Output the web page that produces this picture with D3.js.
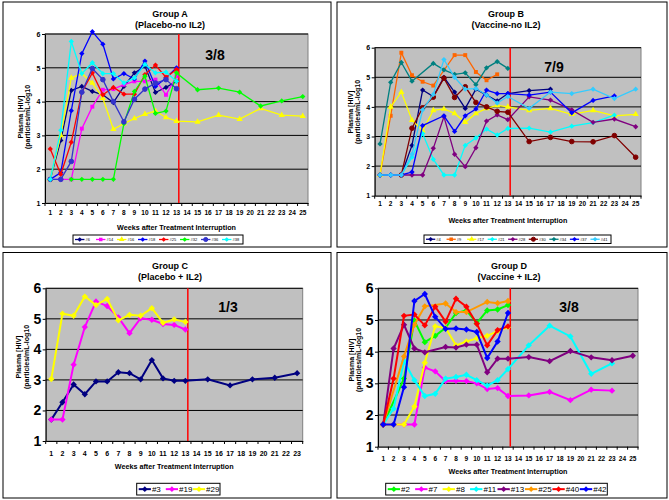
<!DOCTYPE html>
<html>
<head>
<meta charset="utf-8">
<script src="https://cdn.jsdelivr.net/npm/d3@7"></script>
<style>
body { margin: 0; background: #fff; }
text { font-family: "Liberation Sans", Arial, sans-serif; font-weight: bold; fill: #000; }
</style>
</head>
<body>
<script>
// weeks with measurements
const weeksLong = [1,2,3,4,5,6,7,8,9,10,11,12,13,15,17,19,21,23,25];
const weeksC = [1,2,3,4,5,6,7,8,9,10,11,12,13,15,17,19,21,23];
// tick labels on the category axes
const ticksLong = ["1","2","3","4","5","6","7","8","9","10","11","12","13","14","15","16","17","18","19","20","21","22","23","24","25"];
const ticksC = ["1","2","3","4","5","6","7","8","9","10","11","12","13","14","15","16","17","18","19","20","21","22","23"];
const yTicks = [1,2,3,4,5,6];

// Group A (Placebo-no IL2)
const idsA = ["#6","#14","#16","#18","#25","#32","#36","#38"];
const valuesA = [
  [1.7,2.85,4.33,4.45,4.3,4.2,3.97,4.45,4.85,5.05,4.27,4.42,4.6],
  [1.7,1.7,1.7,3.2,3.85,4.35,4.37,4.5,4.6,4.6,4.65,4.2,4.75],
  [1.7,3.0,4.7,4.83,4.55,4.1,3.18,3.35,3.5,3.63,3.72,3.53,3.42,3.4,3.6,3.48,3.8,3.6,3.57],
  [1.7,1.9,3.73,5.42,6.07,5.7,4.67,4.83,4.67,5.2,4.45,4.7,5.0],
  [2.6,1.85,2.8,4.28,4.85,4.2,4.42,4.22,4.22,4.8,5.08,4.72,4.95],
  [null,null,1.7,1.7,1.7,1.7,1.7,3.35,4.3,4.75,3.65,3.72,4.85,4.35,4.4,4.28,3.87,4.02,4.15],
  [1.7,1.7,2.23,4.28,4.98,4.65,4.0,3.4,4.07,4.37,4.55,4.65,4.38],
  [1.7,3.15,5.78,4.83,5.15,4.83,4.83,4.55,4.7,5.1,4.85,4.87,4.6]
];

// Group B (Vaccine-no IL2)
const idsB = ["#4","#9","#17","#21","#28","#30","#34","#37","#41"];
const valuesB = [
  [1.7,1.7,1.7,2.7,4.57,4.35,5.0,4.5,3.95,4.6,4.4,4.2,4.45,4.55,4.6],
  [1.7,3.7,5.83,5.07,4.85,4.72,null,5.75,5.75,5.18,4.9,5.1],
  [1.7,4.0,4.5,3.55,3.2,3.88,3.93,3.78,3.48,3.78,3.95,4.05,4.0,3.88,3.95,3.75,3.88,3.7,3.75],
  [1.7,1.7,1.7,2.3,3.1,2.23,1.7,1.7,2.7,2.95,3.25,3.05,3.27,3.28,3.15,3.35,3.47,3.72],
  [1.7,1.7,1.7,1.7,1.7,2.6,3.67,2.4,1.98,2.62,3.52,3.73,3.57,4.34,4.23,3.9,3.48,3.59,3.33],
  [null,null,1.7,3.28,3.97,4.33,4.97,4.32,4.68,4.15,4.0,3.85,3.82,2.83,2.97,2.83,2.82,3.03,2.3],
  [2.75,4.83,5.5,4.87,null,5.47,5.25,5.1,5.15,4.75,5.32,5.53,5.3],
  [1.7,1.7,1.7,1.8,3.37,null,3.7,3.17,3.7,3.93,4.57,4.45,4.45,4.4,4.5,3.8,4.22,4.37],
  [1.7,1.7,1.7,2.4,3.9,4.42,5.6,5.0,4.6,4.62,4.4,4.13,4.35,3.95,4.5,4.45,4.6,4.28,4.6]
];

// Group C (Placebo + IL2)
const idsC = ["#3","#19","#29"];
const valuesC = [
  [1.7,2.27,2.85,2.53,2.95,2.95,3.25,3.22,3.02,3.65,3.05,2.97,2.97,3.02,2.82,3.02,3.07,3.22],
  [1.7,1.7,3.5,4.73,5.57,5.42,5.05,4.53,5.02,4.97,4.83,4.8,4.65],
  [3.03,5.17,5.1,5.73,5.45,5.65,4.95,5.13,5.1,5.35,4.87,4.98,4.9]
];

// Group D (Vaccine + IL2)
const idsD = ["#2","#7","#8","#11","#13","#25","#40","#42"];
const valuesD = [
  [1.7,null,3.15,4.98,4.3,4.5,4.75,5.22,5.3,4.9,5.3,5.33,5.47],
  [1.7,1.7,1.7,1.7,3.5,3.38,3.07,3.08,3.07,3.0,2.82,2.85,2.6,2.62,2.73,2.47,2.8,2.77],
  [1.7,1.7,1.7,2.27,3.65,4.8,4.75,4.2,4.32,4.42,4.5,4.65,4.78],
  [1.7,2.2,3.7,3.1,2.6,2.67,3.15,3.2,3.27,3.1,2.93,3.1,3.45,4.2,4.82,4.48,3.3,3.63],
  [1.7,4.1,4.85,4.1,3.98,null,4.15,4.13,4.22,4.22,3.35,3.78,3.78,3.83,3.7,4.02,3.82,3.73,3.87],
  [1.7,null,3.85,4.85,5.43,null,5.52,5.25,5.25,null,5.57,5.53,5.6],
  [1.7,3.15,5.13,5.17,4.83,5.42,4.95,5.67,5.42,4.88,4.2,4.68,4.8],
  [1.7,1.7,2.88,5.6,5.82,5.1,4.72,4.73,4.7,4.62,3.8,4.32,5.22]
];

// styles
const colorsA = ["#000080","#FF00FF","#FFFF00","#0000FF","#FF0000","#00FF00","#3333CC","#00FFFF"];
const shapesA = ["d","s","t","d","d","d","c","d"];
const colorsB = ["#000080","#FF6600","#FFFF00","#00FFFF","#800080","#800000","#008080","#0000FF","#33CCFF"];
const shapesB = ["d","s","t","d","d","c","d","d","d"];
const colorsC = ["#000080","#FF00FF","#FFFF00"];
const colorsD = ["#00FF00","#FF00FF","#FFFF00","#00FFFF","#800080","#FF9900","#FF0000","#0000FF"];

const svg = d3.select("body").append("svg").attr("width", 669).attr("height", 500);

const panels = [
  { box: [3, 2, 328, 245], plot: [45, 34, 308, 203], weeks: weeksLong, ticks: ticksLong,
    ids: idsA, values: valuesA, colors: colorsA, shapes: shapesA,
    title: ["Group A", "(Placebo-no IL2)"], titleX: 170, titleY: [16.5, 27.5], titleSize: 9,
    ratio: "3/8", ratioPos: [215, 60], ytSize: 7, xtSize: 6.5, xtY: 214.5, xTitleY: 229.5,
    yTitleX: [22.5, 29.5], yTitleY: 117, legend: [73, 235, 170, 9], legSize: 4, mk: 14, lw: 1.3 },
  { box: [337, 2, 330, 245], plot: [374.7, 47.7, 641, 195.7], weeks: weeksLong, ticks: ticksLong,
    ids: idsB, values: valuesB, colors: colorsB, shapes: shapesB,
    title: ["Group B", "(Vaccine-no IL2)"], titleX: 506, titleY: [16.5, 27.5], titleSize: 9,
    ratio: "7/9", ratioPos: [554, 71.5], ytSize: 7, xtSize: 6.5, xtY: 206.5, xTitleY: 222.5,
    yTitleX: [352.5, 359.5], yTitleY: 112, legend: [424, 235, 187, 8.5], legSize: 4, mk: 14, lw: 1.3 },
  { box: [3, 252.5, 328, 245.5], plot: [45.7, 288.3, 302.7, 441], weeks: weeksC, ticks: ticksC,
    ids: idsC, values: valuesC, colors: colorsC, shapes: ["d","d","d"],
    title: ["Group C", "(Placebo + IL2)"], titleX: 170, titleY: [268.5, 279.5], titleSize: 9,
    ratio: "1/3", ratioPos: [228, 311.5], ytSize: 14, xtSize: 7, xtY: 456, xTitleY: 469,
    yTitleX: [20.8, 28.5], yTitleY: 357, legend: [136.7, 483.3, 83.3, 11.7], legSize: 8, mk: 20, lw: 2 },
  { box: [337, 252.5, 330, 245.5], plot: [378, 288.3, 638, 446.7], weeks: weeksLong, ticks: ticksLong,
    ids: idsD, values: valuesD, colors: colorsD, shapes: ["d","d","d","d","d","d","d","d"],
    title: ["Group D", "(Vaccine + IL2)"], titleX: 509, titleY: [268.5, 279.5], titleSize: 9,
    ratio: "3/8", ratioPos: [569, 311.5], ytSize: 14, xtSize: 6.5, xtY: 461, xTitleY: 473.5,
    yTitleX: [353.8, 360.5], yTitleY: 360, legend: [385.7, 483.3, 221.6, 11.7], legSize: 8, mk: 20, lw: 2 }
];

function marker(sel, shape, size, color) {
  if (shape === "c") {
    sel.append("circle").attr("r", Math.sqrt(size / Math.PI) * 1.1)
      .attr("fill", color).attr("stroke", color);
  } else if (shape === "s") {
    sel.append("path").attr("d", d3.symbol().type(d3.symbolSquare).size(size * 1.1)())
      .attr("fill", color);
  } else if (shape === "t") {
    sel.append("path").attr("d", d3.symbol().type(d3.symbolTriangle).size(size * 1.2)())
      .attr("fill", color);
  } else {
    sel.append("path").attr("d", d3.symbol().type(d3.symbolSquare).size(size)())
      .attr("transform", "rotate(45)").attr("fill", color);
  }
}

function drawPanel(p) {
  const g = svg.append("g");
  const [l, t, r, b] = p.plot;

  g.append("rect").attr("x", p.box[0]).attr("y", p.box[1])
    .attr("width", p.box[2]).attr("height", p.box[3])
    .attr("fill", "#fff").attr("stroke", "#000").attr("stroke-width", 1);

  const x = d3.scaleBand().domain(p.ticks).range([l, r]).padding(0);
  const y = d3.scaleLinear().domain([1, 6]).range([b, t]);
  const cx = w => x(String(w)) + x.bandwidth() / 2;

  g.append("rect").attr("x", l).attr("y", t).attr("width", r - l).attr("height", b - t)
    .attr("fill", "#C0C0C0").attr("stroke", "#808080");

  g.selectAll("line.grid").data(yTicks.slice(1)).join("line")
    .attr("x1", l).attr("x2", r).attr("y1", d => y(d)).attr("y2", d => y(d))
    .attr("stroke", "#000").attr("stroke-width", 1);

  // y axis
  const ya = g.append("g").attr("transform", `translate(${l},0)`)
    .call(d3.axisLeft(y).tickValues(yTicks).tickFormat(d3.format("d")).tickSize(3).tickSizeOuter(0).tickPadding(1.5));
  ya.select(".domain").attr("stroke", "#000");
  ya.selectAll("text").style("font-size", p.ytSize + "px").style("font-family", "Liberation Sans, Arial, sans-serif").style("font-weight", "bold");

  // x axis
  const xa = g.append("g").attr("transform", `translate(0,${b})`)
    .call(d3.axisBottom(x).tickSize(0).tickSizeOuter(0).tickPadding(0));
  xa.select(".domain").attr("stroke", "#000");
  xa.selectAll("text").attr("y", p.xtY - b).attr("dy", 0)
    .style("font-size", p.xtSize + "px").style("font-family", "Liberation Sans, Arial, sans-serif").style("font-weight", "bold");
  g.selectAll("line.xt").data(p.ticks.concat(["end"])).join("line")
    .attr("x1", d => d === "end" ? r : x(d)).attr("x2", d => d === "end" ? r : x(d))
    .attr("y1", b).attr("y2", b + 3).attr("stroke", "#000");

  // treatment interruption marker
  const rx = x("13") + x.bandwidth() * 0.72;
  g.append("line").attr("x1", rx).attr("x2", rx).attr("y1", t).attr("y2", b)
    .attr("stroke", "#FF0000").attr("stroke-width", 1.5);

  // series
  const line = d3.line().x(d => cx(d.w)).y(d => y(d.v));
  p.values.forEach((vals, i) => {
    const pts = p.weeks.map((w, j) => ({ w, v: vals[j] })).filter(d => d.v != null);
    g.append("path").attr("d", line(pts)).attr("fill", "none")
      .attr("stroke", p.colors[i]).attr("stroke-width", p.lw);
    pts.forEach(d => {
      const m = g.append("g").attr("transform", `translate(${cx(d.w)},${y(d.v)})`);
      marker(m, p.shapes[i], p.mk, p.colors[i]);
    });
  });

  // titles
  p.title.forEach((s, i) => {
    g.append("text").attr("x", p.titleX).attr("y", p.titleY[i]).attr("text-anchor", "middle")
      .style("font-size", p.titleSize + "px").text(s);
  });
  g.append("text").attr("x", p.ratioPos[0]).attr("y", p.ratioPos[1]).attr("text-anchor", "middle")
    .style("font-size", "14px").text(p.ratio);
  g.append("text").attr("x", (l + r) / 2).attr("y", p.xTitleY).attr("text-anchor", "middle")
    .style("font-size", "7.2px").text("Weeks after Treatment Interruption");
  ["Plasma [HIV]", "(particles/mL-log10"].forEach((s, i) => {
    g.append("text").attr("transform", `translate(${p.yTitleX[i]},${p.yTitleY}) rotate(-90)`)
      .attr("text-anchor", "middle").style("font-size", "7px").text(s);
  });

  // legend
  const [lx, ly, lwid, lh] = p.legend;
  g.append("rect").attr("x", lx).attr("y", ly).attr("width", lwid).attr("height", lh)
    .attr("fill", "#fff").attr("stroke", "#000");
  const step = (lwid - 2) / p.ids.length;
  const sample = step * 0.45;
  p.ids.forEach((id, i) => {
    const ex = lx + 2 + i * step;
    const my = ly + lh / 2;
    g.append("line").attr("x1", ex).attr("x2", ex + sample).attr("y1", my).attr("y2", my)
      .attr("stroke", p.colors[i]).attr("stroke-width", p.lw);
    const m = g.append("g").attr("transform", `translate(${ex + sample / 2},${my})`);
    marker(m, p.shapes[i], p.mk * 0.8, p.colors[i]);
    g.append("text").attr("x", ex + sample + 1).attr("y", my + p.legSize * 0.36)
      .style("font-size", p.legSize + "px").style("font-weight", "normal").text(id);
  });
}

panels.forEach(drawPanel);
</script>
</body>
</html>
